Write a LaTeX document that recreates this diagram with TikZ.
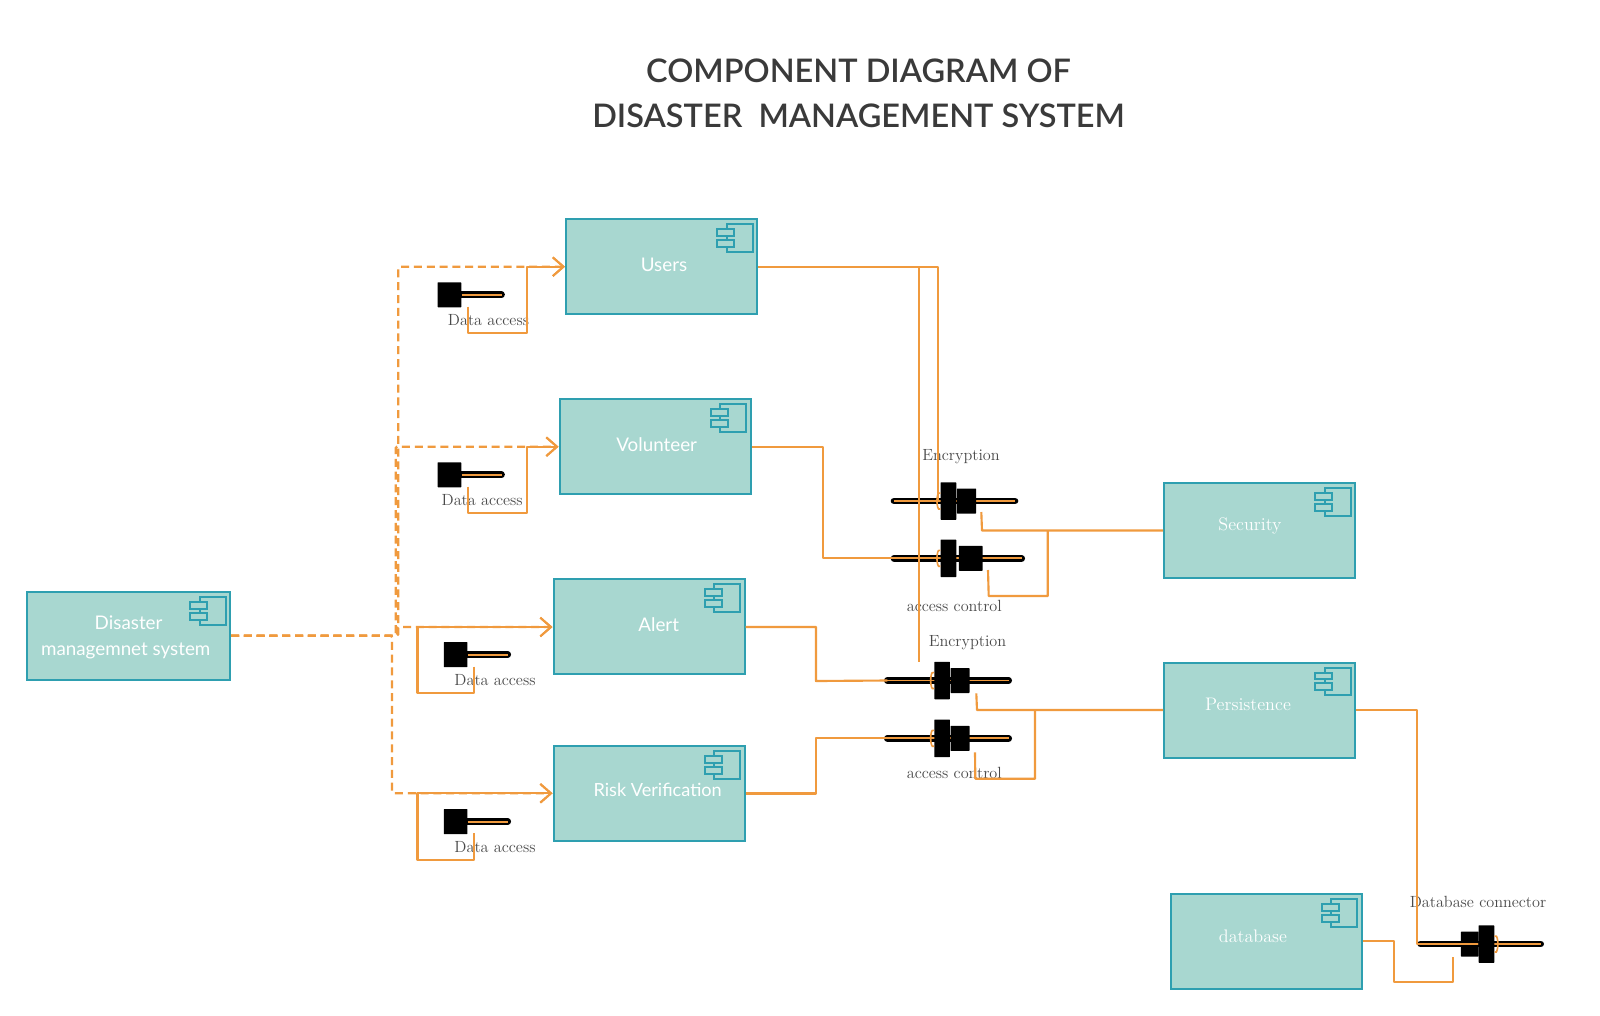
\documentclass[tikz,border=0pt]{standalone}
\usepackage{fontspec}
\usetikzlibrary{arrows.meta,calc}
\newfontfamily\lato{Lato}
\newfontfamily\latotitle{Lato Semibold}
\definecolor{boxfill}{HTML}{A8D7D0}
\definecolor{boxline}{HTML}{2E9FB0}
\definecolor{wire}{HTML}{F09A3E}
\definecolor{titlecol}{HTML}{3A3A3A}
\definecolor{labcol}{HTML}{4A4A4A}
\newcommand{\pxu}{0.75pt}
\tikzset{
  x=0.75pt,y=-0.75pt,
  compbox/.style={draw=boxline,fill=boxfill,line width=1.5pt,inner sep=0pt},
  iconpart/.style={draw=boxline,fill=boxfill,line width=1.5pt},
  latotext/.style={text=white,font=\lato\fontsize{14.1}{17}\selectfont,inner sep=0pt},
  riskfont/.style={text=white,font=\lato\fontsize{13.6}{17}\selectfont,inner sep=0pt},
  serifwhite/.style={text=white,font=\fontsize{13.6}{16}\selectfont,inner sep=0pt},
  lab/.style={text=labcol,font=\fontsize{12.15}{15}\selectfont,inner sep=0pt},
  titletext/.style={text=titlecol,font=\latotitle\fontsize{24.35}{33.6}\selectfont,align=center,inner sep=0pt},
  blk/.style={fill=black,draw=none,inner sep=0pt,rounded corners=0.4pt},
  wireline/.style={draw=wire,line width=1.6pt,line join=round},
  dashline/.style={draw=wire,line width=1.6pt,dash pattern=on 6pt off 3.6pt},
  arrowed/.style={-{Straight Barb[length=8pt,width=14pt,line width=1.5pt]}},
  barblack/.style={draw=black,line width=5pt,line cap=round},
  barcore/.style={draw=wire,line width=1.4pt},
  arcline/.style={draw=wire,line width=1.2pt},
}
% name, x1, y1 (top-left), width, height
\newcommand{\compbox}[5]{%
  \node[compbox,minimum width=#4*\pxu,minimum height=#5*\pxu,anchor=north west] (#1) at (#2,#3) {};
  \path (#1.north east) ++(-31.5,6) coordinate (#1ia) ++(26,27.7) coordinate (#1ib);
  \draw[iconpart] (#1ia) rectangle (#1ib);
  \path (#1.north east) ++(-41,11) coordinate (#1ic) ++(17,6.9) coordinate (#1id);
  \draw[iconpart] (#1ic) rectangle (#1id);
  \path (#1.north east) ++(-41,21.7) coordinate (#1ie) ++(17,6.9) coordinate (#1if);
  \draw[iconpart] (#1ie) rectangle (#1if);
}
% lollipop: name, x-left of square, y-centre
\newcommand{\lolli}[3]{%
  \node[blk,minimum width=23.7*\pxu,minimum height=25*\pxu,anchor=west] (#1) at (#2,#3) {};
  \path (#1.east) ++(40,0) coordinate (#1end);
  \draw[barblack] (#1.east) -- (#1end);
  \draw[barcore] (#1.east) -- (#1end);
}
% plug: name, left bar x, tall block x, gap, second block width, right end, y
\newcommand{\plug}[7]{%
  \coordinate (#1l) at (#2,#7);
  \coordinate (#1r) at (#6,#7);
  \draw[barblack] (#1l) -- (#1r);
  \draw[barcore] (#1l) -- (#1r);
  \node[blk,minimum width=15.7*\pxu,minimum height=37.5*\pxu,anchor=west] (#1t) at (#3,#7) {};
  \node[blk,minimum width=#5*\pxu,minimum height=25*\pxu,anchor=west] (#1s) at ($(#1t.east)+(#4,0)$) {};
  \draw[arcline] ($(#1t.west)+(0,-8)$) arc[start angle=70,end angle=290,x radius=2.5*\pxu,y radius=8.5*\pxu];
}
\begin{document}
\begin{tikzpicture}
\useasboundingbox (0,0) rectangle (1600,1015);
\fill[white] (0,0) rectangle (1600,1015);

\node[titletext] (title) at (858.5,93.5) {COMPONENT DIAGRAM OF\\DISASTER\ \ MANAGEMENT SYSTEM};

% components
\compbox{dms}{26}{591}{203}{88}
\compbox{users}{565}{218}{191}{95}
\compbox{vol}{558.5}{398}{191}{95}
\compbox{alert}{552.5}{578}{191}{95}
\compbox{risk}{552.5}{745}{191}{95}
\compbox{sec}{1163}{482}{191}{95}
\compbox{per}{1163}{661.5}{191}{95}
\compbox{db}{1169.5}{893}{191}{95}

\node[latotext] (dmsA) at (128.6,623) {Disaster};
\node[latotext] (dmsB) at (125.7,650.5) {managemnet system};
\node[latotext] (usersT) at (664,264.5) {Users};
\node[latotext] (volT) at (656.7,444.5) {Volunteer};
\node[latotext] (alertT) at (658.7,625) {Alert};
\node[riskfont] (riskT) at (657.7,790) {Risk Verification};
\node[serifwhite] (secT) at (1250,525.5) {Security};
\node[serifwhite] (perT) at (1248,704.5) {Persistence};
\node[serifwhite] (dbT) at (1253,936) {database};

% lollipops
\lolli{la}{437.3}{294.8}
\lolli{lb}{437.3}{474.8}
\lolli{lc}{443.5}{654.6}
\lolli{ld}{443.5}{821.6}
\node[lab] (laT) at (488.5,320.5) {Data access};
\node[lab] (lbT) at (482.2,500.5) {Data access};
\node[lab] (lcT) at (495,680.5) {Data access};
\node[lab] (ldT) at (495,847.5) {Data access};

% plugs
\plug{pa}{894}{940.3}{0}{19.3}{1015}{501}
\plug{pb}{894}{940.3}{2}{23.7}{1021.7}{558.3}
\plug{pc}{887.3}{934}{0}{19}{1008.7}{680.5}
\plug{pd}{887.3}{934}{0}{19}{1008.7}{738.3}
% database plug (mirrored)
\coordinate (pel) at (1420.6,944);
\coordinate (per2) at (1540.7,944);
\draw[barblack] (pel) -- (per2);
\draw[barcore] (pel) -- (per2);
\node[blk,minimum width=17.6*\pxu,minimum height=25*\pxu,anchor=west] (pes) at (1460.7,944) {};
\node[blk,minimum width=15.7*\pxu,minimum height=37.5*\pxu,anchor=west] (pet) at (1478.3,944) {};
\draw[arcline] ($(pet.east)+(0,-8)$) arc[start angle=110,end angle=-110,x radius=2.5*\pxu,y radius=8.5*\pxu];

\node[lab] (paT) at (961,456.5) {Encryption};
\node[lab] (pbT) at (954.3,606) {access control};
\node[lab] (pcT) at (967.5,643) {Encryption};
\node[lab] (pdT) at (954.3,773.3) {access control};
\node[lab] (peT) at (1478,902) {Database connector};

% dashed connectors from the system
\coordinate (dh) at (396,635.7);
\draw[dashline,rounded corners=1pt,arrowed] (dms.east |- dh) -- (398.3,635.7) -- (398.3,266.7) -- (users.west |- 0,266.7);
\draw[dashline,rounded corners=1pt,arrowed] (dms.east |- dh) -- (395.7,635.7) -- (395.7,446.7) -- (vol.west |- 0,446.7);
\draw[dashline,rounded corners=1pt,arrowed] (dms.east |- dh) -- (397,635.7) -- (397,627) -- (alert.west |- 0,627);
\draw[dashline,rounded corners=1pt,arrowed] (dms.east |- dh) -- (392,635.7) -- (392,793.3) -- (risk.west |- 0,793.3);

% required-interface loops
\draw[wireline,arrowed] (467.7,306.7) -- (467.7,333.3) -- (527.3,333.3) -- (527.3,266.7) -- (users.west |- 0,266.7);
\draw[wireline,arrowed] (467.7,486.7) -- (467.7,513.3) -- (527.3,513.3) -- (527.3,446.7) -- (vol.west |- 0,446.7);
\draw[wireline,arrowed] (474.3,666.7) -- (474.3,693.3) -- (417.5,693.3) -- (417.5,627) -- (alert.west |- 0,627);
\draw[wireline,arrowed] (474.3,833.3) -- (474.3,860) -- (417.5,860) -- (417.5,793.3) -- (risk.west |- 0,793.3);

% provided connectors
\draw[wireline] (users.east |- 0,267) -- (938.3,267) -- (938.3,501);
\draw[wireline] (users.east |- 0,267) -- (918.7,267) -- (918.7,661.7);
\draw[wireline] (vol.east |- 0,447) -- (823,447) -- (823,558.3) -- (pbl);
\draw[wireline] (alert.east |- 0,627) -- (816,627) -- (816,681) -- (pcl);
\draw[wireline] (risk.east |- 0,793.5) -- (816,793.5) -- (816,738.3) -- (pdl);

\draw[wireline] (981.3,512) -- (982,530.5) -- (sec.west |- 0,530.5);
\draw[wireline] (988,570) -- (988.7,596) -- (1047.7,596) -- (1047.7,530.5);
\draw[wireline] (976.3,693.3) -- (977,710) -- (per.west |- 0,710);
\draw[wireline] (975,752.3) -- (975.3,778.7) -- (1035,778.7) -- (1035,710);

\draw[wireline] (per.east |- 0,710) -- (1416.7,710) -- (1416.7,944) -- (1478,944);
\draw[wireline] (db.east |- 0,941) -- (1394.3,941) -- (1394.3,982.3) -- (1453.3,982.3) -- (1453.3,956.7);
\end{tikzpicture}
\end{document}
